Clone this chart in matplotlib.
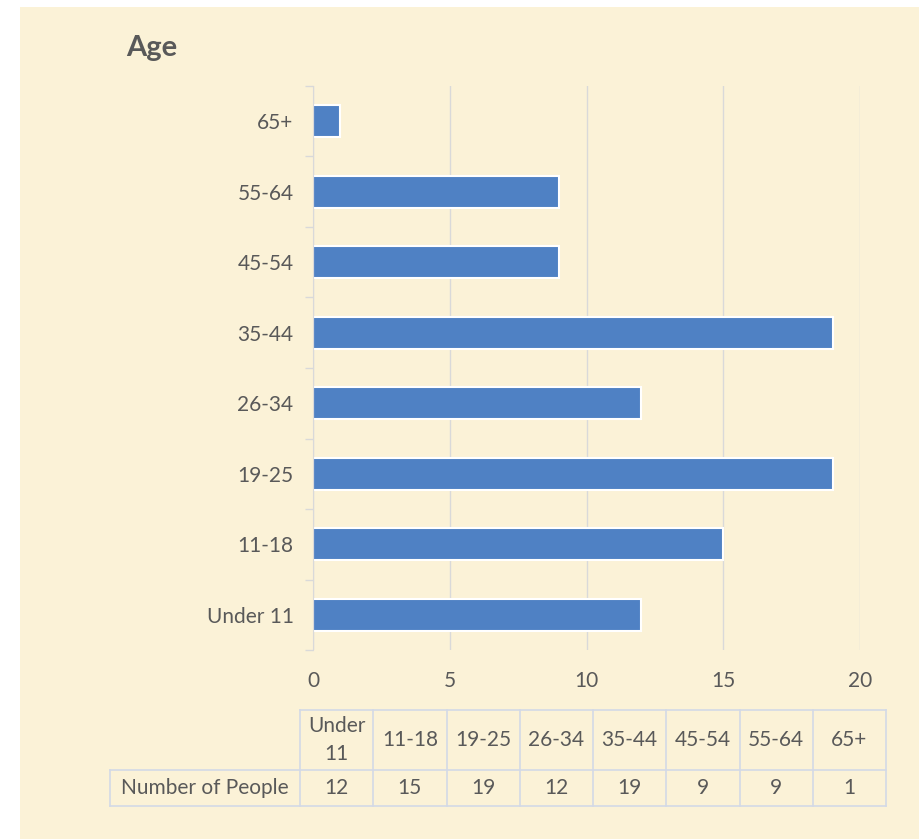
import numpy as np
import matplotlib.pyplot as plt
from matplotlib.patches import Rectangle
from matplotlib.lines import Line2D

plt.rcParams['font.family'] = ['Lato', 'DejaVu Sans']

# age groups and head counts
age_groups = ['Under 11', '11-18', '19-25', '26-34', '35-44', '45-54', '55-64', '65+']
table_heads = ['Under\n11', '11-18', '19-25', '26-34', '35-44', '45-54', '55-64', '65+']
people = [12, 15, 19, 12, 19, 9, 9, 1]
x_ticks = [0, 5, 10, 15, 20]

W, H = 919, 839
BG = '#fbf2d7'
TXT = '#595959'
BAR = '#4f81c4'
GRID = '#d9d9d9'
CELL = '#d3d9e6'
FS = 15

fig = plt.figure(figsize=(W / 100, H / 100), dpi=100)
fig.patch.set_facecolor('white')
fig.add_artist(Rectangle((20 / W, 0), 1 - 20 / W, 1 - 7 / H,
                         transform=fig.transFigure, facecolor=BG, edgecolor='none', zorder=-10))

def fx(px):
    return px / W

def fy(py):
    return 1 - py / H

# ---- bar chart ----
ax = fig.add_axes([fx(313), fy(650), (860 - 313) / W, (650 - 86) / H])
ax.set_facecolor('none')
y = np.arange(len(age_groups))
ax.barh(y, people, height=0.46, color=BAR, edgecolor='white', linewidth=1.5, zorder=3)
ax.set_xlim(0, 20)
ax.set_ylim(-0.5, len(age_groups) - 0.5)
ax.set_xticks(x_ticks)
ax.set_xticklabels([str(v) for v in x_ticks], color=TXT, fontsize=FS)
ax.tick_params(axis='x', length=0, pad=15)
ax.set_yticks(y)
ax.set_yticklabels(age_groups, color=TXT, fontsize=FS)
ax.tick_params(axis='y', which='major', length=0, pad=14)
ax.set_yticks(np.arange(-0.5, len(age_groups), 1.0), minor=True)
ax.tick_params(axis='y', which='minor', length=6, color=GRID, width=1)
ax.grid(axis='x', color=GRID, linewidth=1, zorder=0)
for s in ['top', 'right', 'bottom']:
    ax.spines[s].set_visible(False)
ax.spines['left'].set_color(GRID)
ax.spines['left'].set_zorder(4)

fig.text(fx(126), fy(48), 'Age', fontsize=21, fontweight='bold', color=TXT,
         ha='left', va='center')

# ---- data table under the chart ----
col_edges = np.linspace(300, 886, len(table_heads) + 1)
row_top, row_mid, row_bot = 710, 770, 806
label_left = 110

def hline(x0, x1, yy):
    fig.add_artist(Line2D([fx(x0), fx(x1)], [fy(yy), fy(yy)], color=CELL, lw=1.2))

def vline(xx, y0, y1):
    fig.add_artist(Line2D([fx(xx), fx(xx)], [fy(y0), fy(y1)], color=CELL, lw=1.2))

hline(col_edges[0], col_edges[-1], row_top)
hline(label_left, col_edges[-1], row_mid)
hline(label_left, col_edges[-1], row_bot)
for xe in col_edges:
    vline(xe, row_top, row_bot)
vline(label_left, row_mid, row_bot)

for i, (head, val) in enumerate(zip(table_heads, people)):
    cx = (col_edges[i] + col_edges[i + 1]) / 2
    fig.text(fx(cx), fy((row_top + row_mid) / 2), head, ha='center', va='center',
             color=TXT, fontsize=FS, linespacing=1.5)
    fig.text(fx(cx), fy((row_mid + row_bot) / 2), str(val), ha='center', va='center',
             color=TXT, fontsize=FS)
fig.text(fx((label_left + col_edges[0]) / 2), fy((row_mid + row_bot) / 2), 'Number of People',
         ha='center', va='center', color=TXT, fontsize=FS)

fig.savefig('out.png', dpi=100, facecolor=fig.get_facecolor())
